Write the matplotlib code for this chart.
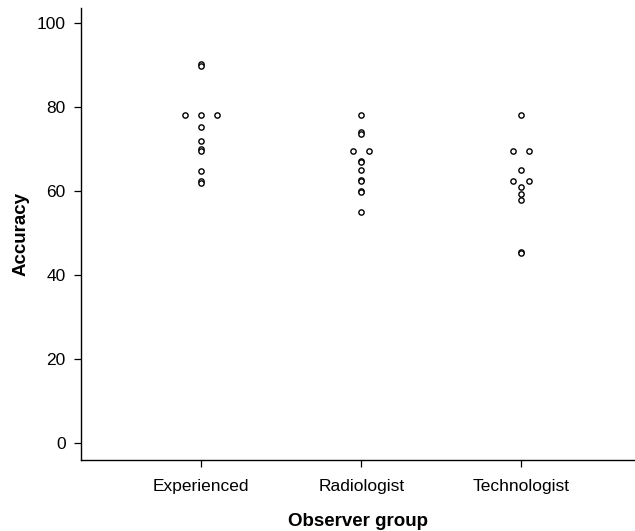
import matplotlib
matplotlib.use("Agg")
import matplotlib.pyplot as plt
import numpy as np

plt.rcParams['font.family'] = ['Liberation Sans', 'DejaVu Sans']

# accuracy of each observer
groups = ["Experienced", "Radiologist", "Technologist"]
experienced = [90.2, 89.8, 78, 78, 78, 75.2, 71.8, 70.0, 69.6, 64.8, 62.4, 62.0]
radiologist = [78, 74.0, 73.6, 69.5, 69.5, 67.2, 66.8, 64.9, 62.7, 62.3, 60.1, 59.7, 55.1]
technologist = [78, 69.5, 69.5, 64.9, 62.4, 62.4, 61.0, 59.2, 57.8, 45.6, 45.2]
yticks = [0, 20, 40, 60, 80, 100]


def dodge(vals, step=0.1):
    # spread tied values sideways like a dot plot
    offs = []
    for v in vals:
        n = vals.count(v)
        k = sum(1 for o in offs if o[0] == v)
        offs.append((v, (k - (n - 1) / 2.0) * step))
    return [o[1] for o in offs]


fig = plt.figure(figsize=(6.35, 5.31), dpi=100)
ax = fig.add_axes([0.1276, 0.1337, 0.8724, 0.8513])

for i, vals in enumerate([experienced, radiologist, technologist]):
    xs = np.array(dodge(vals)) + i + 1
    ax.plot(xs, vals, linestyle='none', marker='o', markersize=3.8,
            markerfacecolor='white', markeredgecolor='black', markeredgewidth=1.0)

ax.set_xlim(0.25, 3.71)
ax.set_ylim(-4.05, 103.6)
ax.set_xticks([1, 2, 3])
ax.set_xticklabels(groups)
ax.set_yticks(yticks)
ax.tick_params(axis='both', labelsize=12.5, length=5, width=0.9, colors='black')
ax.tick_params(axis='x', pad=9)
ax.tick_params(axis='y', pad=6)
ax.spines['top'].set_visible(False)
ax.spines['right'].set_visible(False)
ax.spines['left'].set_linewidth(1.0)
ax.spines['bottom'].set_linewidth(1.0)
ax.set_xlabel("Observer group", fontsize=13.5, fontweight='bold', labelpad=13)
ax.set_ylabel("Accuracy", fontsize=13.5, fontweight='bold', labelpad=5)

fig.savefig("out.png", dpi=100)
